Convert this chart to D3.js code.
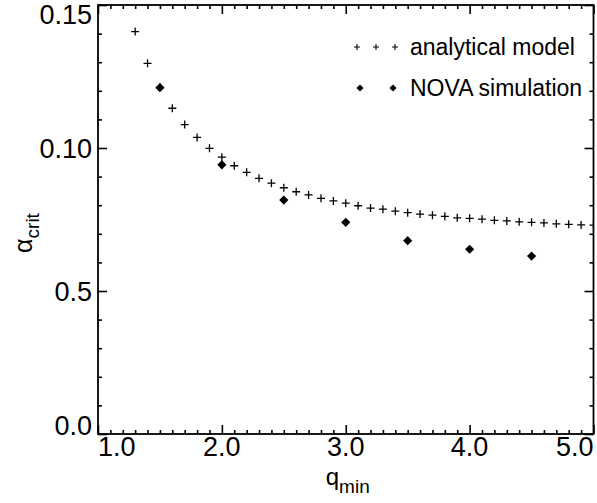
<!DOCTYPE html>
<html>
<head>
<meta charset="utf-8">
<script src="https://cdn.jsdelivr.net/npm/d3@7"></script>
<style>
  body { margin: 0; background: #fff; }
  svg { display: block; font-family: "Liberation Sans", Arial, sans-serif; }
</style>
</head>
<body>
<div id="container"></div>
<script>
// analytical model (+)
const qModel = [1.3, 1.4, 1.5, 1.6, 1.7, 1.8, 1.9, 2.0, 2.1, 2.2, 2.3, 2.4, 2.5, 2.6, 2.7, 2.8, 2.9,
  3.0, 3.1, 3.2, 3.3, 3.4, 3.5, 3.6, 3.7, 3.8, 3.9, 4.0, 4.1, 4.2, 4.3, 4.4, 4.5, 4.6, 4.7, 4.8, 4.9, 5.0];
const alphaModel = [0.1407, 0.1296, 0.1212, 0.1139, 0.1082, 0.1037, 0.0999, 0.0968, 0.0938, 0.0915,
  0.0894, 0.0877, 0.0861, 0.0847, 0.0836, 0.0824, 0.0815, 0.0807, 0.0798, 0.0790, 0.0786, 0.0779,
  0.0774, 0.0769, 0.0765, 0.0761, 0.0756, 0.0754, 0.0751, 0.0747, 0.0745, 0.0742, 0.0740, 0.0738,
  0.0735, 0.0733, 0.0731, 0.0730];

// NOVA simulation (diamonds)
const qNova = [1.5, 2.0, 2.5, 3.0, 3.5, 4.0, 4.5];
const alphaNova = [0.1211, 0.0941, 0.0818, 0.0740, 0.0676, 0.0646, 0.0622];

const xTicks = [1, 2, 3, 4, 5];
const xTickLabels = ["1.0", "2.0", "3.0", "4.0", "5.0"];
const yTicks = [0, 0.05, 0.10, 0.15];
const yTickLabels = ["0.0", "0.5", "0.10", "0.15"];
const legendLabels = ["analytical model", "NOVA simulation"];

const width = 597;
const height = 503;
const marginTop = 5;
const marginRight = 3.5;
const marginBottom = 69;
const marginLeft = 98;

const x = d3.scaleLinear().domain([1, 5]).range([marginLeft, width - marginRight]);
const y = d3.scaleLinear().domain([0, 0.15]).range([height - marginBottom, marginTop]);

const xMinor = x.ticks(40).filter(v => Math.abs(v - Math.round(v)) > 1e-6);
const yMinor = y.ticks(15).filter(v => Math.abs(v * 20 - Math.round(v * 20)) > 1e-6);

const svg = d3.create("svg").attr("width", width).attr("height", height);

svg.append("defs").append("clipPath").attr("id", "plot-clip")
  .append("rect")
  .attr("x", marginLeft).attr("y", marginTop)
  .attr("width", x(5) - marginLeft).attr("height", y(0) - marginTop);

// frame ticks on all four sides, pointing inward
const axes = [
  [d3.axisBottom, x, `translate(0,${y(0)})`],
  [d3.axisTop, x, `translate(0,${y(0.15)})`],
  [d3.axisLeft, y, `translate(${x(1)},0)`],
  [d3.axisRight, y, `translate(${x(5)},0)`]
];
axes.forEach(([axis, scale, tr]) => {
  const isX = scale === x;
  [[isX ? xTicks : yTicks, -9], [isX ? xMinor : yMinor, -4]].forEach(([vals, size]) => {
    const g = svg.append("g")
      .attr("transform", tr)
      .call(axis(scale).tickValues(vals).tickSize(size).tickFormat(""));
    g.select(".domain").remove();
    g.selectAll("line").attr("stroke", "#000").attr("stroke-width", 1.6);
  });
});

svg.append("rect")
  .attr("x", x(1)).attr("y", y(0.15))
  .attr("width", x(5) - x(1)).attr("height", y(0) - y(0.15))
  .attr("fill", "none").attr("stroke", "#000").attr("stroke-width", 1.8);

// tick labels
svg.append("g")
  .attr("font-size", 27)
  .selectAll("text")
  .data(xTicks)
  .join("text")
  .attr("x", d => x(d))
  .attr("y", y(0) + 22)
  .attr("text-anchor", (d, i) => i === 0 ? "start" : i === xTicks.length - 1 ? "end" : "middle")
  .text((d, i) => xTickLabels[i]);

svg.append("g")
  .attr("font-size", 27)
  .selectAll("text")
  .data(yTicks)
  .join("text")
  .attr("x", marginLeft - 6)
  .attr("y", d => Math.min(Math.max(y(d), marginTop + 9.5), y(0) - 8.5) + 9.5)
  .attr("text-anchor", "end")
  .text((d, i) => yTickLabels[i]);

// axis titles
const xTitle = svg.append("text")
  .attr("x", (x(1) + x(5)) / 2 + 2)
  .attr("y", 485)
  .attr("text-anchor", "middle")
  .attr("font-size", 24);
xTitle.append("tspan").text("q");
xTitle.append("tspan").attr("font-size", 19).attr("dy", 8).text("min");

const yTitle = svg.append("text")
  .attr("transform", `translate(32,233) rotate(-90)`)
  .attr("text-anchor", "middle")
  .attr("font-size", 25);
yTitle.append("tspan").text("α");
yTitle.append("tspan").attr("font-size", 19).attr("dy", 7).text("crit");

// marks
const plusPath = r => `M${-r},0H${r}M0,${-r}V${r}`;
const diamondPath = r => `M0,${-r}L${r},0L0,${r}L${-r},0Z`;

const marks = svg.append("g").attr("clip-path", "url(#plot-clip)");

marks.append("g")
  .selectAll("path")
  .data(qModel)
  .join("path")
  .attr("transform", (d, i) => `translate(${x(d)},${y(alphaModel[i])})`)
  .attr("d", plusPath(4))
  .attr("stroke", "#000")
  .attr("stroke-width", 1.3)
  .attr("fill", "none");

marks.append("g")
  .selectAll("path")
  .data(qNova)
  .join("path")
  .attr("transform", (d, i) => `translate(${x(d)},${y(alphaNova[i])})`)
  .attr("d", diamondPath(4.6))
  .attr("fill", "#000");

// legend
const legend = svg.append("g").attr("font-size", 23);
const legendRowY = [47, 88];
[357, 376, 395].forEach(lx => {
  legend.append("path")
    .attr("transform", `translate(${lx},${legendRowY[0]})`)
    .attr("d", plusPath(3))
    .attr("stroke", "#000").attr("stroke-width", 1.1);
});
[360, 393].forEach(lx => {
  legend.append("path")
    .attr("transform", `translate(${lx},${legendRowY[1]})`)
    .attr("d", diamondPath(3.6))
    .attr("fill", "#000");
});
legend.selectAll("text")
  .data(legendLabels)
  .join("text")
  .attr("x", 410)
  .attr("y", (d, i) => legendRowY[i] + 8)
  .text(d => d);

d3.select("#container").append(() => svg.node());
</script>
</body>
</html>
